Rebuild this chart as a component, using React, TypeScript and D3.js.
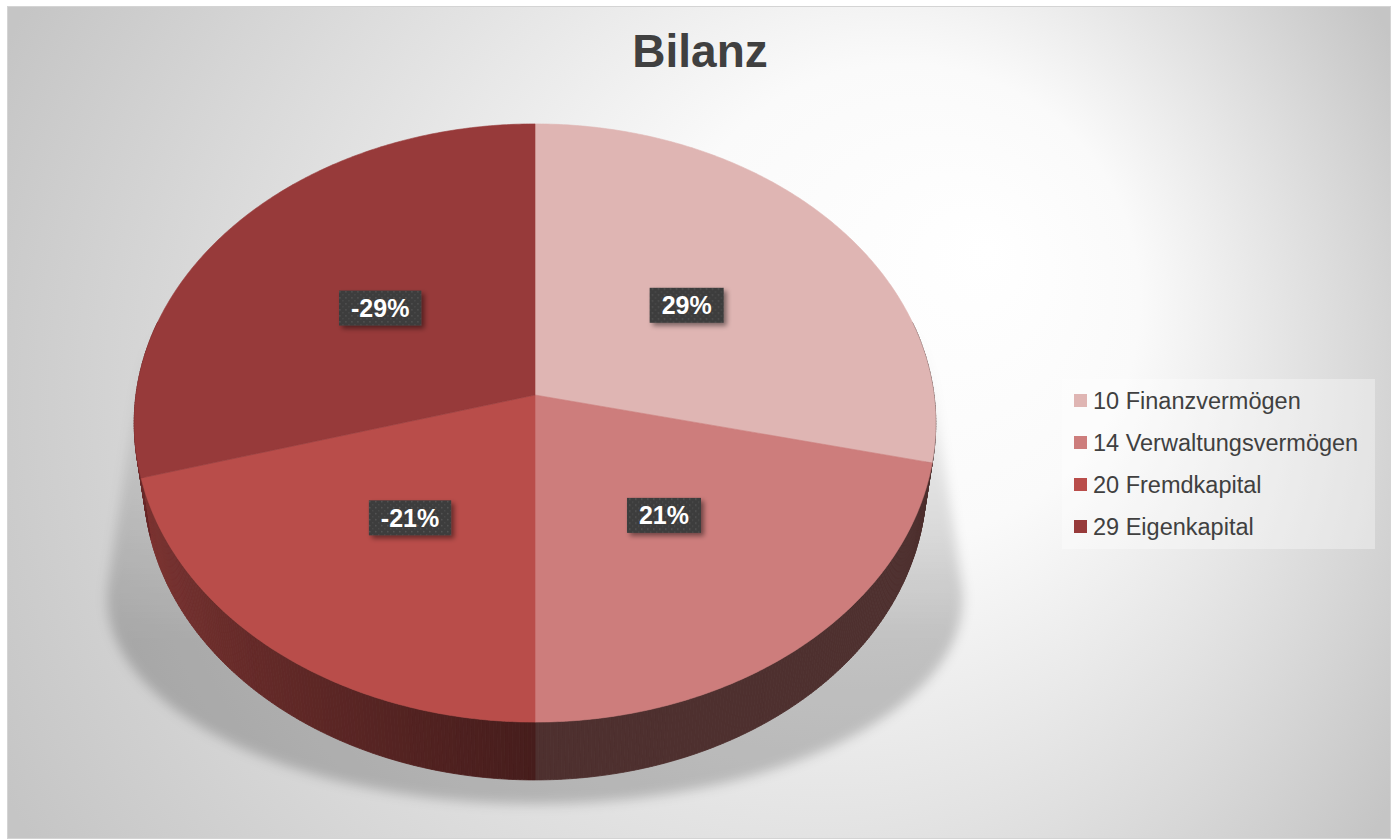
import React, { useEffect, useRef } from "react";
import * as d3 from "d3";

const title = "Bilanz";
const categories = ["10 Finanzvermögen", "14 Verwaltungsvermögen", "20 Fremdkapital", "29 Eigenkapital"];
const values = [28.6, 21.4, -20.6, -29.4];
const colors = ["#dfb5b3", "#cd7d7c", "#b94d4a", "#973a3a"];

const W = 1394;
const H = 839;

// 3D projection parameters
const CX = 535, CY = 395;
const SA = 0.743, CA = 0.669, DIST = 7.145, FOC = 2851;
const DEPTH = 0.231;

function proj(theta: number, r: number, yw: number): [number, number] {
  const x = r * Math.sin(theta);
  const z = r * Math.cos(theta);
  const v = z * SA + yw * CA;
  const w = DIST + z * CA - yw * SA;
  return [CX + (FOC * x) / w, CY - (FOC * v) / w];
}

function shade(theta: number): number {
  const deg = (theta * 180) / Math.PI;
  if (deg <= 180) return 0.38;
  return 0.38 + 0.32 * Math.min(1, (deg - 180) / 80);
}

export default function App() {
  const ref = useRef<SVGSVGElement>(null);

  useEffect(() => {
    const svg = d3.select(ref.current);
    svg.selectAll("*").remove();
    const defs = svg.append("defs");

    const bg = defs.append("radialGradient").attr("id", "bg").attr("gradientUnits", "userSpaceOnUse")
      .attr("cx", 700).attr("cy", 420).attr("r", 790).attr("fx", 990).attr("fy", 250);
    bg.append("stop").attr("offset", 0).attr("stop-color", "#ffffff");
    bg.append("stop").attr("offset", 0.3).attr("stop-color", "#fafafa");
    bg.append("stop").attr("offset", 0.7).attr("stop-color", "#dcdcdc");
    bg.append("stop").attr("offset", 1).attr("stop-color", "#c5c5c5");

    const blur = defs.append("filter").attr("id", "blur").attr("x", "-20%").attr("y", "-20%").attr("width", "140%").attr("height", "140%");
    blur.append("feGaussianBlur").attr("stdDeviation", 6);

    const shGrad = defs.append("linearGradient").attr("id", "shg").attr("gradientUnits", "userSpaceOnUse")
      .attr("x1", 0).attr("y1", 320).attr("x2", 0).attr("y2", 640);
    shGrad.append("stop").attr("offset", 0).attr("stop-color", "#000").attr("stop-opacity", 0);
    shGrad.append("stop").attr("offset", 1).attr("stop-color", "#000").attr("stop-opacity", 0.2);

    const ds = defs.append("filter").attr("id", "ds").attr("x", "-30%").attr("y", "-30%").attr("width", "160%").attr("height", "160%");
    ds.append("feDropShadow").attr("dx", 3).attr("dy", 3).attr("stdDeviation", 2.5).attr("flood-color", "#000").attr("flood-opacity", 0.45);

    const pat = defs.append("pattern").attr("id", "dots").attr("patternUnits", "userSpaceOnUse").attr("width", 6).attr("height", 6);
    pat.append("rect").attr("width", 6).attr("height", 6).attr("fill", "#3c3c3c");
    pat.append("rect").attr("x", 1).attr("y", 1).attr("width", 1.5).attr("height", 1.5).attr("fill", "#555555");
    pat.append("rect").attr("x", 4).attr("y", 4).attr("width", 1.5).attr("height", 1.5).attr("fill", "#4a4a4a");

    // background frame
    svg.append("rect").attr("x", 0).attr("y", 0).attr("width", W).attr("height", H).attr("fill", "#ffffff");
    svg.append("rect").attr("x", 7.5).attr("y", 6.5).attr("width", 1383).attr("height", 832)
      .attr("fill", "url(#bg)").attr("stroke", "#d4d4d4").attr("stroke-width", 1);

    // title
    svg.append("text").attr("x", 700).attr("y", 67).attr("text-anchor", "middle")
      .attr("font-family", "'Liberation Sans', Arial, sans-serif").attr("font-weight", "bold")
      .attr("font-size", 46).attr("fill", "#404040").text(title);

    const total = d3.sum(values, (v) => Math.abs(v));
    const arcs = d3.pie<number>().value((v) => Math.abs(v)).sort(null)(values);
    const step = Math.PI / 360;

    // shadow
    const hullPts: [number, number][] = [];
    for (let t = 0; t < Math.PI * 2; t += step * 4) {
      hullPts.push(proj(t, 1, 0));
      const [sx, sy] = [CX + 428 * Math.sin(t), 598 + 206 * Math.cos(t)];
      hullPts.push([sx, sy]);
    }
    const hull = d3.polygonHull(hullPts);
    if (hull) {
      svg.append("path").attr("d", "M" + hull.map((p) => p.join(",")).join("L") + "Z")
        .attr("fill", "url(#shg)").attr("filter", "url(#blur)");
    }

    const pie = svg.append("g");

    // side walls
    arcs.forEach((a, i) => {
      const base = d3.rgb(colors[i]);
      const n = Math.max(1, Math.ceil((a.endAngle - a.startAngle) / step));
      for (let k = 0; k < n; k++) {
        const a0 = a.startAngle + ((a.endAngle - a.startAngle) * k) / n;
        const a1 = a.startAngle + ((a.endAngle - a.startAngle) * (k + 1)) / n;
        const mid = (a0 + a1) / 2;
        if (mid < Math.PI * 0.42 || mid > Math.PI * 1.58) continue;
        const f = shade(mid);
        const col = d3.rgb(base.r * f, base.g * f, base.b * f).toString();
        const pts = [proj(a0, 1, 0), proj(a1, 1, 0), proj(a1, 1, -DEPTH), proj(a0, 1, -DEPTH)];
        pie.append("path").attr("d", "M" + pts.map((p) => p.join(",")).join("L") + "Z")
          .attr("fill", col).attr("stroke", col).attr("stroke-width", 0.8);
      }
    });

    // top faces
    arcs.forEach((a, i) => {
      const pts: [number, number][] = [proj(0, 0, 0)];
      const n = Math.max(2, Math.ceil((a.endAngle - a.startAngle) / step));
      for (let k = 0; k <= n; k++) {
        const t = a.startAngle + ((a.endAngle - a.startAngle) * k) / n;
        pts.push(proj(t, 1, 0));
      }
      pie.append("path").attr("d", "M" + pts.map((p) => p.join(",")).join("L") + "Z")
        .attr("fill", colors[i]).attr("stroke", colors[i]).attr("stroke-width", 0.6);
    });

    // labels
    arcs.forEach((a, i) => {
      const mid = (a.startAngle + a.endAngle) / 2;
      const [lx, ly] = proj(mid, 0.5, 0);
      const pct = Math.round((values[i] / total) * 100);
      const label = `${pct < 0 ? "-" : ""}${Math.abs(pct)}%`;
      const g = svg.append("g").attr("transform", `translate(${lx},${ly})`);
      const rect = g.append("rect").attr("fill", "url(#dots)").attr("filter", "url(#ds)");
      const txt = g.append("text").attr("text-anchor", "middle").attr("dy", "0.35em")
        .attr("font-family", "'Liberation Sans', Arial, sans-serif").attr("font-weight", "bold")
        .attr("font-size", 25).attr("fill", "#ffffff").text(label);
      const bb = (txt.node() as SVGTextElement).getBBox();
      const pw = 12, bh = 35;
      rect.attr("x", -bb.width / 2 - pw).attr("y", -bh / 2).attr("width", bb.width + 2 * pw).attr("height", bh);
    });

    // legend
    const lg = svg.append("g");
    lg.append("rect").attr("x", 1062).attr("y", 379).attr("width", 313).attr("height", 170)
      .attr("fill", "#ffffff").attr("fill-opacity", 0.35);
    categories.forEach((c, i) => {
      const y = 409 + i * 42;
      lg.append("rect").attr("x", 1074).attr("y", y - 15).attr("width", 13).attr("height", 13).attr("fill", colors[i]);
      lg.append("text").attr("x", 1093).attr("y", y)
        .attr("font-family", "'Liberation Sans', Arial, sans-serif").attr("font-size", 23.5)
        .attr("fill", "#404040").text(c);
    });
  }, []);

  return (
    <div style={{ position: "absolute", left: 0, top: 0 }}>
      <svg ref={ref} width={W} height={H} style={{ display: "block" }} />
    </div>
  );
}
